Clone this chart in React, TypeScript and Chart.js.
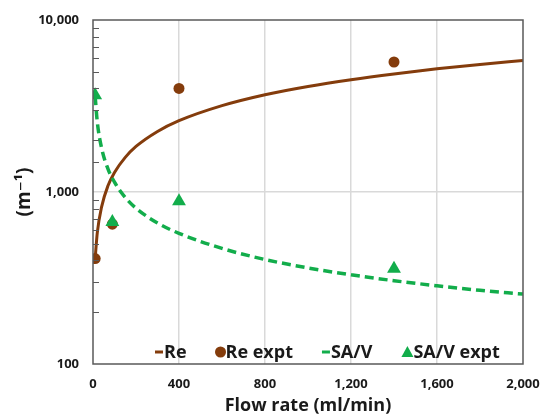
import React, { useEffect, useRef } from "react";
import { Chart, registerables } from "chart.js";

Chart.register(...registerables);

// ---- data ----
const CURVE_X = [10, 20, 40, 70, 100, 150, 200, 300, 400, 600, 800, 1000, 1200, 1400, 1600, 1800, 2000];
const RE_CURVE = [410, 580, 820, 1090, 1300, 1590, 1840, 2250, 2600, 3180, 3680, 4110, 4500, 4860, 5200, 5520, 5810];
const SAV_CURVE = [3600, 2550, 1800, 1360, 1140, 930, 805, 660, 575, 470, 405, 362, 330, 305, 285, 268, 255];

const EXPT_X = [10, 90, 400, 1400];
const RE_EXPT = [410, 650, 4000, 5700];
const SAV_EXPT = [3650, 670, 885, 358];

const X_TICKS = [0, 400, 800, 1200, 1600, 2000];
const Y_MAJOR = [100, 1000, 10000];

const LABELS = ["Re", "Re expt", "SA/V", "SA/V expt"];

const BROWN = "#843C0C";
const GREEN = "#12AD4B";
const TEXT = "#1a1a1a";
const FONT = '"Open Sans", "DejaVu Sans", sans-serif';

const toPts = (xs: number[], ys: number[]) => xs.map((x, i) => ({ x, y: ys[i] }));

const frameAndTicks = {
  id: "frameAndTicks",
  afterDatasetsDraw(chart: any) {
    const { ctx, chartArea } = chart;
    const ys = chart.scales.y;
    ctx.save();
    ctx.strokeStyle = "#595959";
    ctx.lineWidth = 1;
    for (const t of ys.ticks) {
      if (Y_MAJOR.includes(t.value)) continue;
      const py = Math.round(ys.getPixelForValue(t.value)) + 0.5;
      ctx.beginPath();
      ctx.moveTo(chartArea.left, py);
      ctx.lineTo(chartArea.left + 6, py);
      ctx.stroke();
    }
    ctx.lineWidth = 1.5;
    ctx.strokeRect(chartArea.left, chartArea.top, chartArea.right - chartArea.left, chartArea.bottom - chartArea.top);
    ctx.restore();
  },
};

const insideLegend = {
  id: "insideLegend",
  afterDraw(chart: any) {
    const { ctx, chartArea } = chart;
    const y = chartArea.bottom - 12;
    let x = chartArea.left + 62;
    ctx.save();
    ctx.font = `bold 18px ${FONT}`;
    ctx.textBaseline = "middle";
    ctx.textAlign = "left";
    const kinds = ["line", "circle", "line", "triangle"];
    const colors = [BROWN, BROWN, GREEN, GREEN];
    LABELS.forEach((label, i) => {
      const c = colors[i];
      if (kinds[i] === "line") {
        ctx.strokeStyle = c;
        ctx.lineWidth = 3;
        ctx.beginPath();
        ctx.moveTo(x, y);
        ctx.lineTo(x + 8, y);
        ctx.stroke();
        x += 9;
      } else if (kinds[i] === "circle") {
        ctx.fillStyle = c;
        ctx.beginPath();
        ctx.arc(x + 5, y, 5.5, 0, Math.PI * 2);
        ctx.fill();
        x += 10;
      } else {
        ctx.fillStyle = c;
        ctx.beginPath();
        ctx.moveTo(x + 6, y - 6);
        ctx.lineTo(x + 12, y + 5);
        ctx.lineTo(x, y + 5);
        ctx.closePath();
        ctx.fill();
        x += 12;
      }
      ctx.fillStyle = TEXT;
      ctx.fillText(label, x, y + 1);
      x += ctx.measureText(label).width + 29;
    });
    ctx.restore();
  },
};

export default function App() {
  const ref = useRef<HTMLCanvasElement | null>(null);
  useEffect(() => {
    if (!ref.current) return;
    const chart = new Chart(ref.current, {
      type: "scatter",
      data: {
        datasets: [
          {
            label: LABELS[3],
            data: toPts(EXPT_X, SAV_EXPT),
            pointStyle: "triangle",
            pointRadius: 8,
            backgroundColor: GREEN,
            borderColor: GREEN,
            borderWidth: 0,
            order: 0,
          },
          {
            label: LABELS[1],
            data: toPts(EXPT_X, RE_EXPT),
            pointStyle: "circle",
            pointRadius: 5.5,
            backgroundColor: BROWN,
            borderColor: BROWN,
            borderWidth: 0,
            order: 1,
          },
          {
            label: LABELS[2],
            data: toPts(CURVE_X, SAV_CURVE),
            showLine: true,
            pointRadius: 0,
            borderColor: GREEN,
            borderWidth: 3.5,
            borderDash: [9, 5],
            cubicInterpolationMode: "monotone",
            order: 2,
          },
          {
            label: LABELS[0],
            data: toPts(CURVE_X, RE_CURVE),
            showLine: true,
            pointRadius: 0,
            borderColor: BROWN,
            borderWidth: 3,
            cubicInterpolationMode: "monotone",
            order: 3,
          },
        ],
      },
      options: {
        animation: false,
        responsive: false,
        devicePixelRatio: 1,
        layout: { padding: { left: 0, top: 20, right: 19, bottom: 0 } },
        plugins: { legend: { display: false }, tooltip: { enabled: false } },
        scales: {
          x: {
            type: "linear",
            min: 0,
            max: 2000,
            afterBuildTicks: (s: any) => {
              s.ticks = X_TICKS.map((v) => ({ value: v }));
            },
            afterFit: (s: any) => {
              s.height = 55;
              s.paddingLeft = 0;
              s.paddingRight = 0;
            },
            border: { display: false },
            grid: {
              drawTicks: false,
              color: (c: any) => (c.tick && c.tick.value > 0 && c.tick.value < 2000 ? "#D9D9D9" : "rgba(0,0,0,0)"),
              lineWidth: 1.5,
            },
            ticks: {
              padding: 12,
              maxRotation: 0,
              color: TEXT,
              font: { family: FONT, weight: "bold", size: 13 },
              callback: (v: any) => Number(v).toLocaleString("en-US"),
            },
            title: {
              display: true,
              text: "Flow rate (ml/min)",
              color: TEXT,
              font: { family: FONT, weight: "bold", size: 18 },
              padding: { top: 0, bottom: 2 },
            },
          },
          y: {
            type: "logarithmic",
            min: 100,
            max: 10000,
            afterFit: (s: any) => {
              s.width = 93;
              s.paddingTop = 0;
              s.paddingBottom = 0;
            },
            border: { display: false },
            grid: {
              drawTicks: false,
              color: (c: any) => (c.tick && c.tick.value === 1000 ? "#D9D9D9" : "rgba(0,0,0,0)"),
              lineWidth: 1.5,
            },
            ticks: {
              autoSkip: false,
              padding: 14,
              color: TEXT,
              font: { family: FONT, weight: "bold", size: 13 },
              callback: (v: any) => (Y_MAJOR.includes(Number(v)) ? Number(v).toLocaleString("en-US") : ""),
            },
            title: {
              display: true,
              text: "(m⁻¹)",
              color: TEXT,
              font: { family: FONT, weight: "bold", size: 19 },
              padding: { top: 13, bottom: 0 },
            },
          },
        },
      },
      plugins: [frameAndTicks, insideLegend],
    } as any);
    return () => chart.destroy();
  }, []);
  return (
    <div style={{ position: "absolute", left: 0, top: 0, width: 542, height: 419, background: "#fff" }}>
      <canvas ref={ref} width={542} height={419} />
    </div>
  );
}
